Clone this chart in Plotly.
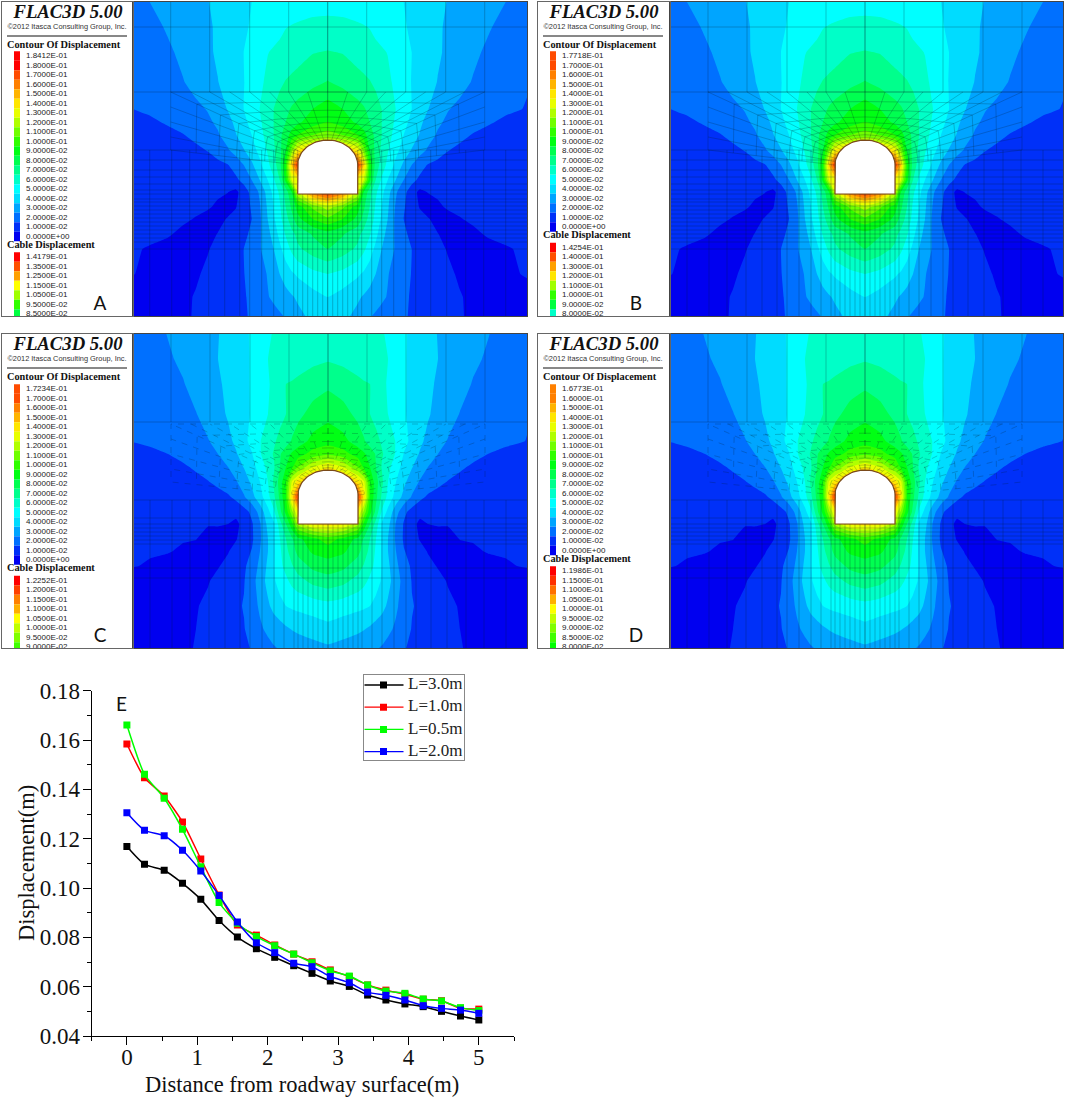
import numpy as np
import plotly.graph_objects as go

# --- line chart E
DISTANCE = [0, 0.25, 0.53, 0.79, 1.05, 1.31, 1.57, 1.84, 2.1, 2.37, 2.63, 2.89, 3.16, 3.42, 3.68, 3.95, 4.21, 4.47, 4.74, 5]
L_30 = [.1168, .1096, .1072, .1019, .0954, .0868, .0801, .0754, .0719, .0685, .0654, .0623, .0601, .0566, .0546, .0530, .0519, .0500, .0481, .0465]
L_10 = [.1584, .1447, .1373, .1268, .1118, .0972, .0850, .0809, .0769, .0732, .0701, .0668, .0641, .0607, .0586, .0569, .0549, .0543, .0512, .0509]
L_05 = [.1661, .1461, .1364, .1238, .1086, .0941, .0857, .0803, .0766, .0732, .0697, .0664, .0643, .0607, .0582, .0573, .0550, .0542, .0515, .0503]
L_20 = [.1305, .1234, .1212, .1153, .1069, .0970, .0862, .0778, .0738, .0695, .0681, .0641, .0616, .0578, .0565, .0546, .0523, .0512, .0505, .0492]
SERIES_NAMES = ["L=3.0m", "L=1.0m", "L=0.5m", "L=2.0m"]
SERIES_COLORS = ["#000000", "#ff0000", "#00ff00", "#0000ff"]

# --- contour sections: displacement in 1e-2 m, half section (mirrored about the roadway axis)
SECTION_X = [0, 15, 30, 36, 42, 48, 54, 60, 68, 76, 84, 92, 100, 110, 120, 132, 145, 160, 178, 200]
SECTION_Y = [0, 25, 50, 80, 107, 120, 133, 148, 163, 178, 190, 205, 217, 232, 247, 272, 295, 315]

FIELD_AB = [
    [5.7, 5.7, 5.6, 5.5, 5.5, 5.4, 5.3, 5.25, 5.1, 5.0, 4.8, 4.6, 4.4, 4.2, 3.97, 3.8, 3.55, 3.3, 3.0, 2.7],
    [6.25, 6.2, 6.1, 6.05, 5.97, 5.8, 5.65, 5.5, 5.3, 5.1, 4.85, 4.6, 4.4, 4.1, 3.9, 3.65, 3.4, 3.1, 2.7, 2.35],
    [7.05, 6.95, 6.6, 6.5, 6.35, 6.2, 6.1, 5.97, 5.6, 5.3, 5.0, 4.75, 4.45, 4.12, 3.85, 3.55, 3.2, 2.85, 2.5, 2.2],
    [8.05, 7.7, 7.35, 7.2, 7.05, 6.8, 6.5, 6.2, 5.8, 5.35, 4.97, 4.65, 4.35, 3.97, 3.65, 3.3, 2.95, 2.6, 2.3, 2.05],
    [9.5, 9.0, 8.35, 8.1, 7.75, 7.4, 7.0, 6.55, 6.0, 5.5, 5.0, 4.5, 4.05, 3.5, 3.05, 2.8, 2.6, 2.4, 2.15, 1.95],
    [10.0, 9.5, 8.8, 8.4, 8.0, 7.5, 7.0, 6.5, 5.85, 5.3, 4.75, 4.2, 3.7, 3.15, 2.85, 2.6, 2.35, 2.1, 1.85, 1.6],
    [11.5, 11.0, 10.0, 9.4, 8.5, 7.75, 7.0, 6.4, 5.65, 5.0, 4.45, 3.95, 3.4, 2.9, 2.6, 2.25, 1.95, 1.75, 1.55, 1.35],
    [15.0, 15.0, 14.0, 11.5, 8.9, 7.7, 6.8, 6.1, 5.3, 4.6, 3.95, 3.4, 2.9, 2.5, 2.05, 1.8, 1.6, 1.45, 1.3, 1.2],
    [18.0, 18.0, 18.0, 15.0, 9.9, 7.6, 6.55, 5.75, 4.75, 3.8, 3.0, 2.4, 1.95, 1.7, 1.55, 1.4, 1.3, 1.2, 1.15, 1.1],
    [14.5, 14.5, 14.0, 13.0, 9.3, 7.0, 5.85, 5.0, 4.0, 3.0, 2.3, 1.8, 1.55, 1.4, 1.3, 1.25, 1.2, 1.15, 1.1, 1.05],
    [18.5, 17.0, 13.0, 9.0, 7.4, 6.2, 5.3, 4.4, 3.15, 2.3, 1.5, 0.75, 1.02, 1.15, 1.15, 1.15, 1.15, 1.1, 1.1, 1.05],
    [12.5, 11.2, 9.4, 8.2, 7.0, 5.85, 5.0, 4.15, 2.9, 2.1, 1.5, 0.95, 0.75, 0.85, 1.1, 1.2, 1.2, 1.15, 1.1, 1.05],
    [10.8, 10.0, 8.7, 7.6, 6.6, 5.7, 4.85, 4.0, 2.8, 2.0, 1.6, 1.3, 1.05, 0.8, 0.7, 0.95, 1.15, 1.15, 1.15, 1.1],
    [8.6, 8.1, 7.3, 6.7, 6.1, 5.3, 4.4, 3.7, 2.85, 2.25, 1.7, 1.45, 1.2, 1.02, 0.8, 0.7, 0.8, 1.1, 1.15, 1.15],
    [8.0, 7.5, 6.8, 6.2, 5.5, 4.75, 4.0, 3.5, 2.9, 2.4, 2.0, 1.7, 1.45, 1.2, 0.95, 0.8, 0.7, 0.7, 0.95, 1.1],
    [6.0, 5.7, 5.15, 4.85, 4.45, 4.0, 3.7, 3.05, 2.7, 2.3, 1.97, 1.7, 1.5, 1.3, 1.15, 0.9, 0.75, 0.7, 0.8, 1.1],
    [5.0, 4.6, 4.15, 3.9, 3.65, 3.4, 3.15, 2.95, 2.6, 2.2, 1.9, 1.65, 1.45, 1.3, 1.15, 1.05, 0.85, 0.7, 0.6, 0.6],
    [4.5, 4.25, 3.7, 3.3, 3.05, 2.85, 2.7, 2.55, 2.35, 2.1, 1.9, 1.7, 1.5, 1.35, 1.2, 1.05, 0.9, 0.7, 0.6, 0.55],
]

FIELD_CD = [
    [6.4, 6.3, 6.2, 6.15, 6.1, 6.07, 6.03, 5.95, 5.55, 5.1, 4.85, 4.6, 4.4, 3.95, 3.75, 3.55, 3.3, 3.03, 2.7, 2.3],
    [6.9, 6.75, 6.45, 6.35, 6.25, 6.15, 6.1, 6.0, 5.55, 5.1, 4.8, 4.55, 4.3, 4.0, 3.75, 3.45, 3.15, 2.9, 2.55, 2.2],
    [7.8, 7.55, 7.25, 7.1, 7.0, 6.6, 6.25, 5.9, 5.5, 5.1, 4.8, 4.5, 4.2, 3.87, 3.6, 3.3, 2.95, 2.65, 2.3, 2.05],
    [8.7, 8.35, 7.75, 7.35, 7.0, 6.65, 6.35, 6.0, 5.55, 5.1, 4.75, 4.4, 4.1, 3.7, 3.35, 2.97, 2.7, 2.4, 2.2, 2.05],
    [9.6, 9.3, 8.5, 8.1, 7.55, 7.3, 6.85, 6.45, 5.95, 5.3, 4.75, 4.2, 3.75, 3.3, 2.95, 2.75, 2.55, 2.35, 2.2, 1.97],
    [10.8, 10.4, 9.55, 9.15, 8.55, 7.9, 7.1, 6.6, 5.9, 4.95, 4.5, 3.9, 3.45, 3.0, 2.8, 2.55, 2.3, 2.0, 1.75, 1.55],
    [14.0, 13.0, 11.0, 9.8, 9.0, 8.0, 6.9, 6.3, 5.4, 4.65, 4.05, 3.5, 3.0, 2.7, 2.45, 2.15, 1.85, 1.65, 1.45, 1.3],
    [16.0, 16.0, 14.5, 13.2, 10.0, 8.4, 7.2, 6.0, 5.0, 4.2, 3.5, 2.9, 2.6, 2.25, 1.95, 1.7, 1.5, 1.35, 1.2, 1.1],
    [18.0, 18.0, 18.0, 14.5, 10.0, 8.25, 6.8, 5.7, 4.6, 3.7, 2.9, 2.25, 1.85, 1.6, 1.45, 1.3, 1.2, 1.1, 1.05, 1.02],
    [14.5, 14.5, 14.0, 11.7, 9.3, 7.7, 5.8, 4.7, 3.4, 2.25, 1.6, 1.25, 1.15, 1.1, 1.1, 1.05, 1.05, 1.05, 1.02, 1.02],
    [14.5, 14.2, 12.4, 9.7, 8.0, 6.6, 4.85, 4.3, 2.9, 1.9, 1.3, 0.8, 1.0, 1.05, 1.05, 1.05, 1.05, 1.05, 1.02, 1.02],
    [10.5, 9.7, 8.7, 7.85, 7.0, 6.0, 4.85, 4.0, 2.85, 1.85, 1.35, 0.95, 0.8, 0.75, 0.75, 1.02, 1.05, 1.05, 1.02, 1.02],
    [9.5, 9.2, 8.3, 7.55, 6.7, 5.85, 4.85, 4.0, 3.0, 2.05, 1.65, 1.25, 0.95, 0.75, 0.7, 0.75, 0.9, 1.05, 1.05, 1.02],
    [8.5, 8.25, 7.5, 6.9, 6.3, 5.75, 4.9, 4.2, 3.25, 2.4, 1.85, 1.5, 1.2, 0.95, 0.8, 0.7, 0.65, 0.75, 0.95, 1.05],
    [7.6, 7.3, 6.6, 6.25, 5.8, 5.5, 4.85, 4.3, 3.5, 2.6, 1.95, 1.7, 1.45, 1.2, 0.95, 0.8, 0.7, 0.65, 0.65, 0.7],
    [5.65, 5.45, 5.25, 5.15, 5.0, 4.6, 4.3, 3.85, 3.15, 2.6, 2.05, 1.85, 1.65, 1.4, 1.15, 0.95, 0.8, 0.7, 0.6, 0.6],
    [4.7, 4.45, 4.2, 4.05, 3.85, 3.65, 3.45, 3.2, 2.85, 2.4, 1.95, 1.75, 1.55, 1.35, 1.2, 1.0, 0.85, 0.7, 0.6, 0.55],
    [3.8, 3.6, 3.35, 3.2, 3.15, 3.05, 2.9, 2.7, 2.35, 2.05, 1.85, 1.7, 1.55, 1.4, 1.25, 1.05, 0.85, 0.7, 0.55, 0.5],
]

# one colour per 0.01 m band, from the FLAC3D legend
LEVEL_COLORS = ["#0000f0", "#0030f8", "#0070ff", "#00a5ff", "#00dcff", "#00ffff", "#00ffc8", "#00ff8c", "#00ff50", "#00ff14",
                "#30ff00", "#70ff00", "#b0ff00", "#e8ff00", "#ffe600", "#ffb400", "#ff8000", "#ff4b00", "#ff0000"]

# --- legend texts
LABELS_A = ["1.8412E-01", "1.8000E-01", "1.7000E-01", "1.6000E-01", "1.5000E-01", "1.4000E-01", "1.3000E-01", "1.2000E-01", "1.1000E-01", "1.0000E-01",
            "9.0000E-02", "8.0000E-02", "7.0000E-02", "6.0000E-02", "5.0000E-02", "4.0000E-02", "3.0000E-02", "2.0000E-02", "1.0000E-02", "0.0000E+00"]
LABELS_B = ["1.7718E-01"] + LABELS_A[2:]
LABELS_C = ["1.7234E-01"] + LABELS_A[2:]
LABELS_D = ["1.6773E-01"] + LABELS_A[3:]
CABLE_A = ["1.4179E-01", "1.3500E-01", "1.2500E-01", "1.1500E-01", "1.0500E-01", "9.5000E-02", "8.5000E-02"]
CABLE_B = ["1.4254E-01", "1.4000E-01", "1.3000E-01", "1.2000E-01", "1.1000E-01", "1.0000E-01", "9.0000E-02", "8.0000E-02"]
CABLE_C = ["1.2252E-01", "1.2000E-01", "1.1500E-01", "1.1000E-01", "1.0500E-01", "1.0000E-01", "9.5000E-02", "9.0000E-02"]
CABLE_D = ["1.1986E-01", "1.1500E-01", "1.1000E-01", "1.0500E-01", "1.0000E-01", "9.5000E-02", "9.0000E-02", "8.5000E-02", "8.0000E-02"]
CABLE_COLORS_A = ["#ff0000", "#ff5000", "#ffa000", "#ffff00", "#a0ff00", "#30ff00", "#00ff40"]
CABLE_COLORS_B = ["#ff0000", "#ff5000", "#ffa000", "#ffe600", "#a0ff00", "#30ff00", "#00ff40", "#00ffc8"]
CABLE_COLORS_C = ["#ff0000", "#ff4000", "#ff8000", "#ffb000", "#ffff00", "#c0ff00", "#80ff00", "#40ff00"]
CABLE_COLORS_D = ["#ff0000", "#ff3000", "#ff7000", "#ffb000", "#ffff00", "#c0ff00", "#80ff00", "#40ff00", "#00ff00"]

# --- mesh, in section coordinates
MESH_TOP_X = [39, 78, 118, 157]
MESH_TOP_Y_AB = [25, 90]
MESH_TOP_Y_CD = [88]
MESH_LOW_X = [178, 156, 138, 119, 103, 88, 78, 66, 54, 44, 34, 30]
MESH_LOW_Y_AB = [148, 158, 168, 175, 182, 188, 192, 197, 200, 204, 208, 212, 216, 220, 224, 228, 232, 236, 240, 247]
MESH_LOW_Y_CD = [166, 184, 190, 194, 198, 202, 206, 210, 234, 244]
MESH_FLOOR_X = [0, 5, 10, 15, 20, 25]
FAN_OUTER = [(0, 90), (20, 90), (39, 90), (58, 90), (78, 90), (98, 90), (118, 90), (137, 90), (157, 90), (157, 105), (157, 120), (157, 135), (157, 148)]
FAN_RINGS = [0.05, 0.11, 0.18, 0.26, 0.36, 0.48, 0.62, 0.8, 1]

W, H = 1065, 1100
# left, tunnel centre, right, top, bottom of each section in the picture
PANELS = [("A", 133, 327.7, 527, 2, 316, 2, LABELS_A, CABLE_A, CABLE_COLORS_A, FIELD_AB, 138, 192),
          ("B", 669.5, 865, 1063, 2, 316, 538, LABELS_B, CABLE_B, CABLE_COLORS_B, FIELD_AB, 138, 192),
          ("C", 133, 328, 527, 334, 648, 2, LABELS_C, CABLE_C, CABLE_COLORS_C, FIELD_CD, 136, 190),
          ("D", 669.5, 865, 1063, 334, 648, 538, LABELS_D, CABLE_D, CABLE_COLORS_D, FIELD_CD, 136, 190)]

SERIF = "Liberation Serif"
SANS = "Liberation Sans"

fig = go.Figure()
layout = {}


def add_axes(n, x0, x1, y0, y1, xr, yr, **kw):
    suffix = "" if n == 1 else str(n)
    layout["xaxis" + suffix] = dict(domain=[x0 / W, x1 / W], range=xr, anchor="y" + suffix, automargin=False, **kw)
    layout["yaxis" + suffix] = dict(domain=[1 - y1 / H, 1 - y0 / H], range=yr, anchor="x" + suffix, automargin=False, **kw)
    return "x" + suffix, "y" + suffix


def tunnel_outline(top, floor):
    shoulder = top + 25
    t = np.radians(np.linspace(180, 0, 41))
    xs = [-30] + list(30 * np.cos(t)) + [30, -30]
    ys = [floor] + list(shoulder - 25 * np.sin(t)) + [floor, floor]
    return xs, ys


def mesh_lines(cd, floor):
    xs, ys = [], []

    def seg(a, b):
        xs.extend([a[0], b[0], None])
        ys.extend([a[1], b[1], None])

    top_rows = MESH_TOP_Y_CD if cd else MESH_TOP_Y_AB
    low_rows = MESH_LOW_Y_CD if cd else MESH_LOW_Y_AB
    end = max(top_rows)
    for x in [0] + MESH_TOP_X:
        seg((x, 0), (x, end))
        seg((-x, 0), (-x, end))
    for y in top_rows:
        seg((-200, y), (200, y))
    upper = MESH_LOW_Y_CD[0] if cd else 148
    for x in MESH_LOW_X:
        seg((x, upper), (x, 315))
        seg((-x, upper), (-x, 315))
    for x in MESH_FLOOR_X:
        seg((x, floor), (x, 315))
        seg((-x, floor), (-x, 315))
    for y in low_rows:
        if y < floor:
            seg((-200, y), (-30, y))
            seg((30, y), (200, y))
        else:
            seg((-200, y), (200, y))
    return xs, ys


def fan_lines(top):
    # rings and radial lines between the roadway arch and the upper block
    shoulder = top + 25
    ang = np.radians(np.linspace(0, 90, len(FAN_OUTER)))
    inner = [(30 * np.sin(a), shoulder - 25 * np.cos(a)) for a in ang]
    xs, ys = [], []
    for sign in (-1, 1):
        for p, q in zip(inner, FAN_OUTER):
            xs.extend([sign * p[0], sign * q[0], None])
            ys.extend([p[1], q[1], None])
        for f in FAN_RINGS:
            for p, q in zip(inner, FAN_OUTER):
                xs.append(sign * (p[0] + f * (q[0] - p[0])))
                ys.append(p[1] + f * (q[1] - p[1]))
            xs.append(None)
            ys.append(None)
    return xs, ys


colorscale = [[0, LEVEL_COLORS[0]]]
for i, c in enumerate(LEVEL_COLORS):
    colorscale.append([(i + 0.5) / len(LEVEL_COLORS), c])
colorscale.append([1, LEVEL_COLORS[-1]])

full_x = [-v for v in SECTION_X[:0:-1]] + SECTION_X

for k, (letter, left, centre, right, top, bottom, leg_x, labels, cable, cable_colors, field, arch, floor) in enumerate(PANELS):
    # section view
    xa, ya = add_axes(2 * k + 1, left, right, top, bottom, [left - centre, right - centre], [bottom - top, 0],
                      visible=True, showticklabels=False, ticks="", showgrid=False, zeroline=False,
                      showline=True, mirror=True, linecolor="#444444", linewidth=1)
    z = [(np.array(row[:0:-1] + row) / 100).tolist() for row in field]
    fig.add_trace(go.Contour(x=full_x, y=SECTION_Y, z=z, xaxis=xa, yaxis=ya, colorscale=colorscale,
                             zmin=0, zmax=0.19, autocontour=False, showscale=False,
                             contours=dict(start=0, end=0.19, size=0.01, coloring="fill", showlines=False),
                             line=dict(width=0, smoothing=0.3), hoverinfo="skip"))
    cd = letter in "CD"
    mx, my = mesh_lines(cd, floor)
    fig.add_trace(go.Scatter(x=mx, y=my, xaxis=xa, yaxis=ya, mode="lines", showlegend=False, hoverinfo="skip",
                             line=dict(color="rgba(0,30,40,0.42)", width=0.6)))
    fx, fy = fan_lines(arch)
    fig.add_trace(go.Scatter(x=fx, y=fy, xaxis=xa, yaxis=ya, mode="lines", showlegend=False, hoverinfo="skip",
                             line=dict(color="rgba(0,30,40,0.38)", width=0.6, dash="6px,6px" if cd else "solid")))
    tx, ty = tunnel_outline(arch, floor)
    fig.add_trace(go.Scatter(x=tx, y=ty, xaxis=xa, yaxis=ya, mode="lines", fill="toself", fillcolor="white",
                             showlegend=False, hoverinfo="skip", line=dict(color="#7a4a1a", width=1.2)))

    # legend column
    xb, yb = add_axes(2 * k + 2, leg_x, left, top, bottom, [0, left - leg_x], [bottom - top, 0],
                      visible=True, showticklabels=False, ticks="", showgrid=False, zeroline=False,
                      showline=True, mirror=True, linecolor="#666666", linewidth=1)
    pitch = 9.5
    first = 54 if letter in "AB" else 55
    rows = [first + i * pitch for i in range(len(labels))]
    head = first + len(labels) * pitch + 1
    cable_rows = [head + 10 + i * pitch for i in range(len(cable))]
    swatch_colors = [LEVEL_COLORS[min(int(float(t) * 100 + 1e-6), 18)] for t in labels]
    fig.add_trace(go.Bar(y=rows + cable_rows, x=[6] * (len(rows) + len(cable_rows)), base=12, orientation="h",
                         width=pitch, xaxis=xb, yaxis=yb, showlegend=False, hoverinfo="skip",
                         marker=dict(color=swatch_colors + cable_colors, line=dict(width=0))))
    fig.add_trace(go.Scatter(x=[24] * (len(rows) + len(cable_rows)), y=rows + cable_rows, text=labels + cable,
                             mode="text", textposition="middle right", xaxis=xb, yaxis=yb, showlegend=False,
                             hoverinfo="skip", textfont=dict(family=SANS, size=8, color="#222222")))
    fig.add_trace(go.Scatter(x=[5, 5], y=[43, head - 2], text=["<b>Contour Of Displacement</b>", "<b>Cable Displacement</b>"],
                             mode="text", textposition="middle right", xaxis=xb, yaxis=yb, showlegend=False,
                             hoverinfo="skip", textfont=dict(family=SERIF, size=10.3, color="#111111")))
    fig.add_trace(go.Scatter(x=[66], y=[11], text=["<b><i>FLAC3D 5.00</i></b>"], mode="text", xaxis=xb, yaxis=yb,
                             showlegend=False, hoverinfo="skip", textfont=dict(family=SERIF, size=18.7, color="#111111")))
    fig.add_trace(go.Scatter(x=[65], y=[25], text=["©2012 Itasca Consulting Group, Inc."], mode="text", xaxis=xb, yaxis=yb,
                             showlegend=False, hoverinfo="skip", textfont=dict(family=SANS, size=7.4, color="#333333")))
    fig.add_trace(go.Scatter(x=[5, 125], y=[34, 34], mode="lines", xaxis=xb, yaxis=yb, showlegend=False,
                             hoverinfo="skip", line=dict(color="#111111", width=1)))
    fig.add_trace(go.Scatter(x=[98], y=[303], text=[letter], mode="text", xaxis=xb, yaxis=yb, showlegend=False,
                             hoverinfo="skip", textfont=dict(family="Lato", size=19, color="#111111")))

# chart E
ax_font = dict(family=SERIF, size=23, color="#111111")
axis_style = dict(showgrid=False, zeroline=False, showline=True, linecolor="black", linewidth=1.2,
                  ticks="outside", ticklen=8, tickwidth=1.2, tickcolor="black", tickfont=ax_font)
xe, ye = add_axes(9, 91.7, 514, 690.7, 1036, [-0.5, 5.5], [0.04, 0.18])
layout["xaxis9"].update(axis_style, dtick=1, tick0=0, ticklabelstandoff=-8,
                        minor=dict(dtick=0.5, ticks="outside", ticklen=4, tickcolor="black", tickwidth=1.2))
layout["yaxis9"].update(axis_style, dtick=0.02, tick0=0.04, tickformat=".2f", ticklabelstandoff=-2,
                        minor=dict(dtick=0.01, ticks="outside", ticklen=4, tickcolor="black", tickwidth=1.2))

for name, values, color in zip(SERIES_NAMES, [L_30, L_10, L_05, L_20], SERIES_COLORS):
    fig.add_trace(go.Scatter(x=DISTANCE, y=values, name=name, xaxis=xe, yaxis=ye, mode="lines+markers", showlegend=False,
                             line=dict(color=color, width=1.5, shape="spline", smoothing=0.6),
                             marker=dict(symbol="square", size=7, color=color)))

# legend box of chart E, same keys as the series
xl, yl = add_axes(10, 363.5, 464, 674.5, 760, [0, 100.5], [85.5, 0], showticklabels=False, ticks="", showgrid=False,
                  zeroline=False, showline=True, mirror=True, linecolor="#888888", linewidth=1)
for i, (name, color) in enumerate(zip(SERIES_NAMES, SERIES_COLORS)):
    key_y = 10.5 + i * 22.2
    fig.add_trace(go.Scatter(x=[1, 20, 40], y=[key_y] * 3, xaxis=xl, yaxis=yl, mode="lines", showlegend=False,
                             line=dict(color=color, width=1.3)))
    fig.add_trace(go.Scatter(x=[20], y=[key_y], xaxis=xl, yaxis=yl, mode="markers", showlegend=False,
                             marker=dict(symbol="square", size=7, color=color)))
    fig.add_trace(go.Scatter(x=[44.5], y=[key_y], text=[name], xaxis=xl, yaxis=yl, mode="text", textposition="middle right",
                             showlegend=False, textfont=dict(family=SERIF, size=17, color="#222222")))

note = dict(xref="paper", yref="paper", showarrow=False, xanchor="center", yanchor="middle")
fig.update_layout(
    **layout,
    width=W, height=H, autosize=False,
    margin=dict(l=0, r=0, t=0, b=0, autoexpand=False),
    paper_bgcolor="white", plot_bgcolor="white",
    barmode="overlay",
    hovermode=False,
    showlegend=False,
    annotations=[dict(text="E", x=121 / W, y=1 - 703 / H, font=dict(family="Lato", size=19, color="#111111"), **note),
                 dict(text="Distance from roadway surface(m)", x=302 / W, y=1 - 1084 / H,
                      font=dict(family=SERIF, size=22.5, color="#111111"), **note),
                 dict(text="Displacement(m)", x=26 / W, y=1 - 863 / H, textangle=-90,
                      font=dict(family=SERIF, size=22.5, color="#111111"), **note)],
)

fig.write_html("out.html", config={"displayModeBar": False},
               post_script="document.body.style.margin='0';Plotly.Plots.resize(document.getElementById('{plot_id}'));")
